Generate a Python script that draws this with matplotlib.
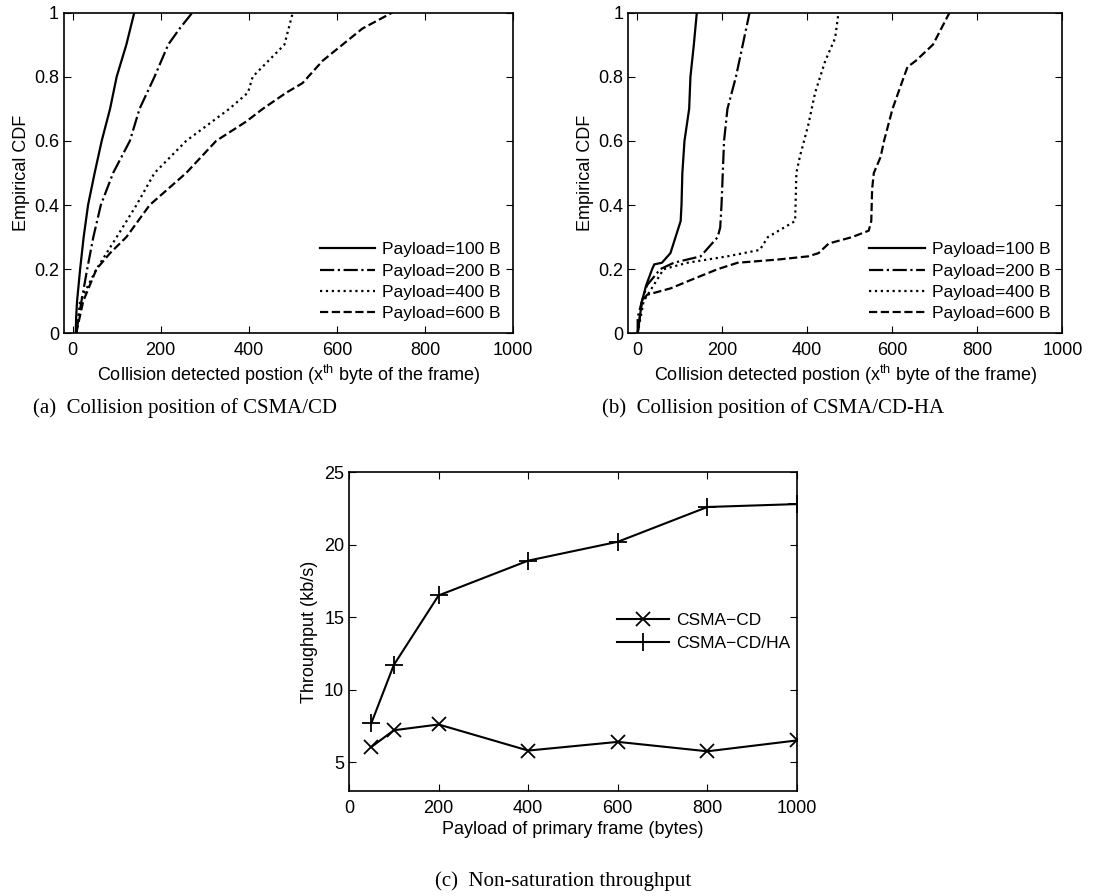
import numpy as np
import matplotlib
matplotlib.use('Agg')
import matplotlib.pyplot as plt

plt.rcParams['font.family'] = 'Liberation Sans'
plt.rcParams['mathtext.fontset'] = 'custom'
plt.rcParams['mathtext.rm'] = 'Liberation Sans'
plt.rcParams['xtick.direction'] = 'in'
plt.rcParams['ytick.direction'] = 'in'
plt.rcParams['xtick.top'] = True
plt.rcParams['ytick.right'] = True

# ---- panel (a): CSMA/CD collision position CDF ----
a_cdf_100 = [0, 0.05, 0.1, 0.2, 0.3, 0.4, 0.5, 0.6, 0.7, 0.8, 0.9, 1.0]
a_pos_100 = [7, 8, 10, 17, 25, 35, 50, 66, 85, 100, 122, 140]

a_cdf_200 = [0, 0.1, 0.2, 0.3, 0.4, 0.5, 0.6, 0.7, 0.8, 0.9, 0.95, 1.0]
a_pos_200 = [8, 20, 33, 47, 64, 92, 130, 152, 186, 217, 243, 272]

a_cdf_400 = [0, 0.1, 0.2, 0.3, 0.4, 0.5, 0.6, 0.7, 0.75, 0.8, 0.9, 1.0]
a_pos_400 = [8, 17, 54, 100, 145, 186, 258, 356, 398, 409, 481, 500]

a_cdf_600 = [0, 0.1, 0.2, 0.25, 0.3, 0.4, 0.5, 0.6, 0.66, 0.7, 0.75, 0.78,
             0.85, 0.9, 0.95, 1.0]
a_pos_600 = [8, 24, 54, 85, 122, 175, 258, 326, 394, 432, 485, 522,
             568, 613, 658, 726]

# ---- panel (b): CSMA/CD-HA collision position CDF ----
b_cdf_100 = [0, 0.1, 0.15, 0.2, 0.215, 0.22, 0.25, 0.3, 0.35, 0.4, 0.5,
             0.6, 0.7, 0.8, 0.9, 1.0]
b_pos_100 = [2, 12, 22, 36, 41, 59, 79, 91, 103, 105, 107, 112, 123, 126,
             134, 141]

b_cdf_200 = [0, 0.05, 0.1, 0.15, 0.2, 0.22, 0.24, 0.3, 0.33, 0.4, 0.5, 0.6,
             0.7, 0.8, 0.9, 1.0]
b_pos_200 = [2, 2, 12, 24, 55, 87, 150, 190, 196, 199, 202, 205, 213, 233,
             249, 265]

b_cdf_400 = [0, 0.1, 0.2, 0.22, 0.24, 0.26, 0.3, 0.35, 0.4, 0.5, 0.55, 0.65,
             0.75, 0.85, 0.92, 1.0]
b_pos_400 = [2, 16, 63, 119, 213, 289, 308, 372, 373, 375, 383, 403, 419,
             443, 466, 474]

b_cdf_600 = [0, 0.1, 0.12, 0.14, 0.17, 0.2, 0.22, 0.23, 0.24, 0.25, 0.28,
             0.3, 0.32, 0.35, 0.45, 0.5, 0.55, 0.6, 0.7, 0.76, 0.83, 0.85,
             0.9, 1.0]
b_pos_600 = [2, 12, 24, 79, 134, 190, 237, 332, 403, 427, 451, 506, 545,
             551, 553, 557, 573, 581, 601, 617, 636, 656, 696, 735]

cdf_labels = ['Payload=100 B', 'Payload=200 B', 'Payload=400 B', 'Payload=600 B']
cdf_styles = ['-', '-.', ':', '--']

# ---- panel (c): throughput ----
payload = [50, 100, 200, 400, 600, 800, 1000]
thr_cd = [6.05, 7.2, 7.6, 5.8, 6.4, 5.75, 6.5]
thr_cdha = [7.7, 11.7, 16.5, 18.9, 20.2, 22.6, 22.8]

fig = plt.figure(figsize=(11.2, 8.96), dpi=100)
ax_a = fig.add_axes([0.057, 0.628, 0.401, 0.358])
ax_b = fig.add_axes([0.561, 0.628, 0.3875, 0.358])
ax_c = fig.add_axes([0.3116, 0.117, 0.4, 0.356])

xlab = r'Collision detected postion (x$^{\mathrm{th}}$ byte of the frame)'


def cdf_panel(ax, curves):
    for (pos, cdf), ls, lab in zip(curves, cdf_styles, cdf_labels):
        ax.plot(pos, cdf, color='black', ls=ls, lw=1.6, label=lab)
    ax.set_xlim(-20, 1000)
    ax.set_ylim(0, 1)
    ax.set_xticks(np.arange(0, 1001, 200))
    ax.set_yticks(np.arange(0, 1.01, 0.2))
    ax.yaxis.set_major_formatter(matplotlib.ticker.FormatStrFormatter('%g'))
    ax.set_xlabel(xlab, fontsize=13, labelpad=3)
    ax.set_ylabel('Empirical CDF', fontsize=13, labelpad=3)
    ax.tick_params(labelsize=13, length=5)
    ax.tick_params(axis='x', pad=6)
    ax.legend(loc='lower right', frameon=False, fontsize=12.5,
              handlelength=3.2, handletextpad=0.4, labelspacing=0.35,
              borderaxespad=0.3)


cdf_panel(ax_a, [(a_pos_100, a_cdf_100), (a_pos_200, a_cdf_200),
                 (a_pos_400, a_cdf_400), (a_pos_600, a_cdf_600)])
cdf_panel(ax_b, [(b_pos_100, b_cdf_100), (b_pos_200, b_cdf_200),
                 (b_pos_400, b_cdf_400), (b_pos_600, b_cdf_600)])

ax_c.plot(payload, thr_cd, color='black', marker='x', ms=10, mew=1.3, lw=1.5,
          label='CSMA\u2212CD')
ax_c.plot(payload, thr_cdha, color='black', marker='+', ms=13, mew=1.3, lw=1.5,
          label='CSMA\u2212CD/HA')
ax_c.set_xlim(0, 1000)
ax_c.set_ylim(3, 25)
ax_c.set_xticks(np.arange(0, 1001, 200))
ax_c.set_yticks([5, 10, 15, 20, 25])
ax_c.set_xlabel('Payload of primary frame (bytes)', fontsize=13, labelpad=3)
ax_c.set_ylabel('Throughput (kb/s)', fontsize=13, labelpad=4)
ax_c.tick_params(labelsize=13, length=5)
ax_c.tick_params(axis='x', pad=6)
ax_c.legend(loc='center right', bbox_to_anchor=(1.02, 0.5), frameon=False,
            fontsize=12.5, handlelength=3, handletextpad=0.4, labelspacing=0.45)

for ax in (ax_a, ax_b, ax_c):
    for sp in ax.spines.values():
        sp.set_linewidth(1.2)

cap = dict(fontsize=15, family='Liberation Serif', ha='center', va='center')
fig.text(185 / 1120, 1 - 408 / 896, '(a)  Collision position of CSMA/CD', **cap)
fig.text(773 / 1120, 1 - 408 / 896, '(b)  Collision position of CSMA/CD-HA', **cap)
fig.text(563 / 1120, 1 - 881 / 896, '(c)  Non-saturation throughput', **cap)

fig.savefig('out.png', dpi=100)
